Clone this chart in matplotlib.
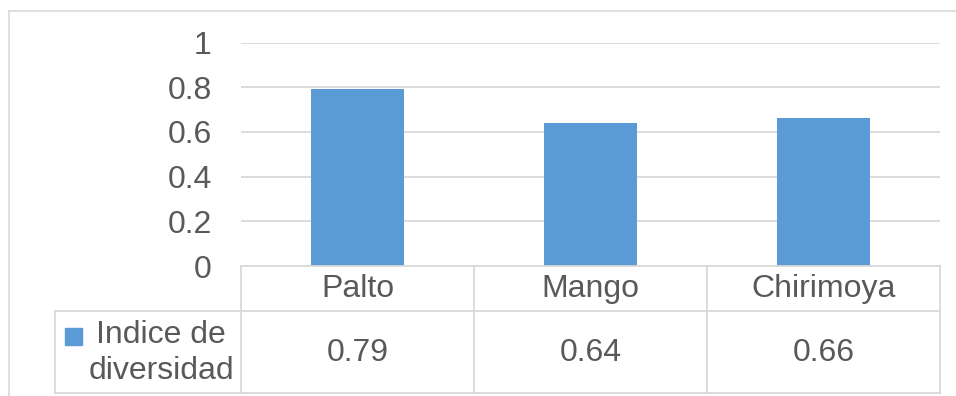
import matplotlib.pyplot as plt
from matplotlib.lines import Line2D
from matplotlib.patches import Rectangle

# data
categories = ["Palto", "Mango", "Chirimoya"]
values = [0.79, 0.64, 0.66]
value_labels = ["0.79", "0.64", "0.66"]
series_name = "Indice de\ndiversidad"
yticks = [0, 0.2, 0.4, 0.6, 0.8, 1]
ytick_labels = ["0", "0.2", "0.4", "0.6", "0.8", "1"]

plt.rcParams['font.family'] = ['Liberation Sans', 'DejaVu Sans']

W, H = 956, 396
bar_color = "#5b9bd5"
grid_color = "#d9d9d9"
text_color = "#595959"
fs = 23

fig = plt.figure(figsize=(W / 100, H / 100), dpi=100)

# outer chart border (top and left visible)
fig.add_artist(Line2D([9 / W, 1], [1 - 11 / H, 1 - 11 / H], color=grid_color, lw=1.2,
                      transform=fig.transFigure))
fig.add_artist(Line2D([9 / W, 9 / W], [0, 1 - 11 / H], color=grid_color, lw=1.2,
                      transform=fig.transFigure))

# plot area: x 241..940, y 42.5..266 px
left, right, top, bottom = 241, 940, 42.5, 266
ax = fig.add_axes([left / W, 1 - bottom / H, (right - left) / W, (bottom - top) / H])
x = range(len(categories))
ax.bar(x, values, width=0.4, color=bar_color, zorder=3)
ax.set_xlim(-0.5, 2.5)
ax.set_ylim(0, 1)
ax.set_yticks(yticks)
ax.set_yticklabels(ytick_labels)
ax.yaxis.grid(True, color=grid_color, lw=1.3, zorder=0)
ax.tick_params(axis='y', length=0, pad=21, labelsize=fs, labelcolor=text_color)
ax.set_xticks([])
for s in ax.spines.values():
    s.set_visible(False)

# data table below the plot
tl, tb = 55, 393
tab = fig.add_axes([tl / W, 1 - tb / H, (right - tl) / W, (tb - bottom) / H])
unit = (right - left) / 3
x0 = -0.5 - (left - tl) / unit
tab.set_xlim(x0, 2.5)
tab.set_ylim(tb, bottom)
tab.axis('off')

lw = 1.3
tab.plot([-0.5, 2.5], [bottom, bottom], color=grid_color, lw=lw, clip_on=False)
tab.plot([x0, 2.5], [311, 311], color=grid_color, lw=lw, clip_on=False)
tab.plot([x0, 2.5], [tb, tb], color=grid_color, lw=lw, clip_on=False)
tab.plot([x0, x0], [311, tb], color=grid_color, lw=lw, clip_on=False)
for xv in [-0.5, 0.5, 1.5, 2.5]:
    tab.plot([xv, xv], [bottom, tb], color=grid_color, lw=lw, clip_on=False)

for i, (cat, lab) in enumerate(zip(categories, value_labels)):
    tab.text(i, 289, cat, ha='center', va='center', fontsize=fs, color=text_color)
    tab.text(i, 353, lab, ha='center', va='center', fontsize=fs, color=text_color)

# legend key in the table header cell
kx = x0 + (65 - tl) / unit
tab.add_patch(Rectangle((kx, 345), 17 / unit, -17, color=bar_color, clip_on=False))
tab.text(x0 + (161 - tl) / unit, 353, series_name, ha='center', va='center',
         fontsize=fs, color=text_color, linespacing=1.3, multialignment='center')

fig.savefig("out.png", dpi=100)
